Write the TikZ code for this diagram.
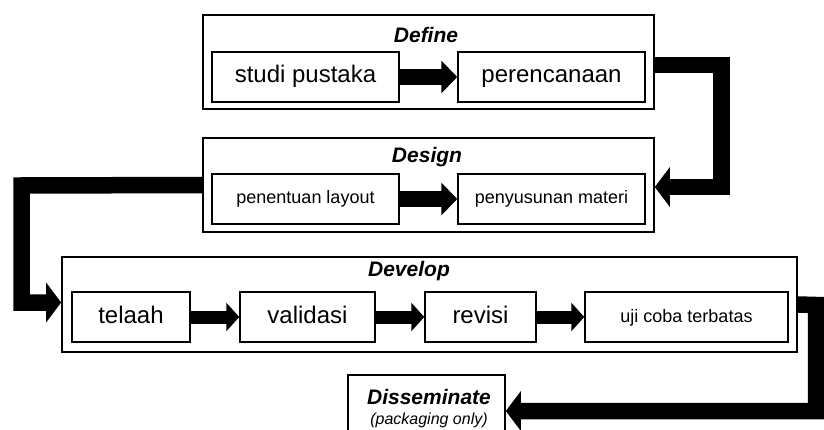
\documentclass[tikz,border=0pt]{standalone}
\usepackage{fontspec}
\setmainfont{Liberation Sans}
\usetikzlibrary{arrows.meta}
\tikzset{
  outerbox/.style={draw=black, line width=1.6pt, minimum width=#1, inner sep=0pt, fill=white},
  innerbox/.style={draw=black, line width=1.5pt, inner sep=0pt, minimum height=50pt, fill=white},
  title/.style={font=\fontsize{21}{24}\selectfont\bfseries\itshape, inner sep=0pt},
  bigtext/.style={font=\fontsize{24}{28}\selectfont, text height=17pt, text depth=5pt},
  smalltext/.style={font=\fontsize{18}{21}\selectfont, text height=13.5pt, text depth=3.5pt},
  bigarrow/.style={line width=16.5pt, line join=miter, -{Triangle[length=15pt,width=39pt]}},
  midarrow/.style={line width=16pt, -{Triangle[length=16pt,width=32pt]}},
  smallarrow/.style={line width=13pt, -{Triangle[length=13pt,width=28pt]}}
}
\begin{document}
\begin{tikzpicture}[x=1pt,y=-1pt]
\useasboundingbox (0,0) rectangle (824,430);
\clip (0,0) rectangle (824,430);
% Define
\node[outerbox=451pt, minimum height=94pt] (define) at (428.5,62) {};
\node[title] (definet) at (426,35) {Define};
\node[innerbox, minimum width=187pt, bigtext] (studi) at (305.5,77) {studi pustaka};
\node[innerbox, minimum width=187pt, bigtext] (renc) at (551.5,77) {perencanaan};
\draw[midarrow] (studi.east) -- (renc.west);
% Design
\node[outerbox=451pt, minimum height=94pt] (design) at (428.5,185) {};
\node[title] (designt) at (427,157) {Design};
\node[innerbox, minimum width=187pt, smalltext] (layout) at (305.5,199) {penentuan layout};
\node[innerbox, minimum width=187pt, smalltext] (materi) at (551.5,199) {penyusunan materi};
\draw[midarrow] (layout.east) -- (materi.west);
% Develop
\node[outerbox=735pt, minimum height=95pt] (develop) at (429.5,304.5) {};
\node[title] (developt) at (409,271) {Develop};
\node[innerbox, minimum width=118pt, bigtext] (telaah) at (131,317) {telaah};
\node[innerbox, minimum width=135pt, bigtext] (validasi) at (307.5,317) {validasi};
\node[innerbox, minimum width=111pt, bigtext] (revisi) at (480.5,317) {revisi};
\node[innerbox, minimum width=203pt, smalltext] (uji) at (686.5,317) {uji coba terbatas};
\draw[smallarrow] (telaah.east) -- (validasi.west);
\draw[smallarrow] (validasi.east) -- (revisi.west);
\draw[smallarrow] (revisi.east) -- (uji.west);
% Disseminate
\node[outerbox=157pt, minimum height=66pt] (dissem) at (426.5,408) {};
\node[title] (dissemt) at (429,397) {Disseminate};
\node[inner sep=0pt, font=\fontsize{16}{19}\selectfont\itshape] (pack) at (429,420) {(packaging only)};
% connectors between phases
\coordinate (c1) at (721.5,65);
\draw[bigarrow] ([yshift=-3pt]define.east) -- (c1) |- ([yshift=-2pt]design.east);
\coordinate (c2) at (21.5,185.5);
\draw[bigarrow] (design.west) -- (c2) |- ([yshift=2pt]develop.west);
\coordinate (c3) at (816,305);
\draw[bigarrow] (develop.east) -- (c3) |- ([yshift=-3pt]dissem.east);
\end{tikzpicture}
\end{document}
